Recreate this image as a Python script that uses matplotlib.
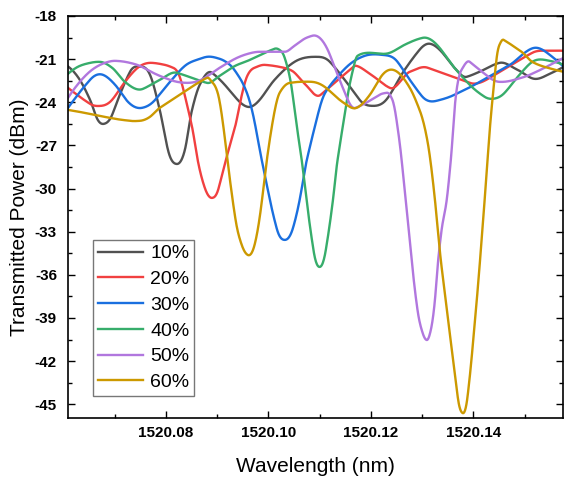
import numpy as np
import matplotlib
matplotlib.use("Agg")
import matplotlib.pyplot as plt
from matplotlib.ticker import MultipleLocator, FormatStrFormatter

plt.rcParams["font.family"] = ["Liberation Sans", "DejaVu Sans"]

labels = ["10%", "20%", "30%", "40%", "50%", "60%"]
colors = ["#515151", "#F14040", "#1A6FDF", "#37AD6B", "#B177DE", "#CC9900"]

wl_10 = [1520.0609, 1520.0632, 1520.0652, 1520.0665, 1520.0679, 1520.0695, 1520.0710, 1520.0730,
         1520.0749, 1520.0769, 1520.0788, 1520.0804, 1520.0821, 1520.0837, 1520.0851, 1520.0866,
         1520.0890, 1520.0915, 1520.0940, 1520.0960, 1520.0983, 1520.1012, 1520.1051, 1520.1090,
         1520.1120, 1520.1149, 1520.1178, 1520.1204, 1520.1233, 1520.1266, 1520.1295, 1520.1315,
         1520.1338, 1520.1363, 1520.1387, 1520.1412, 1520.1451, 1520.1486, 1520.1519, 1520.1549,
         1520.1576]
pw_10 = [-21.51, -22.44, -23.83, -25.08, -25.50, -24.88, -23.48, -21.88,
         -21.51, -22.09, -24.53, -27.31, -28.29, -27.31, -24.53, -22.79,
         -21.95, -22.79, -23.83, -24.32, -23.83, -22.44, -21.19, -20.84,
         -21.19, -22.44, -23.83, -24.25, -23.69, -21.74, -20.35, -19.93,
         -20.49, -21.60, -22.23, -21.88, -21.26, -21.74, -22.37, -22.02,
         -21.54]

wl_20 = [1520.0609, 1520.0632, 1520.0652, 1520.0673, 1520.0695, 1520.0720, 1520.0745, 1520.0773,
         1520.0798, 1520.0814, 1520.0827, 1520.0839, 1520.0851, 1520.0862, 1520.0876, 1520.0890,
         1520.0903, 1520.0917, 1520.0935, 1520.0946, 1520.0958, 1520.0973, 1520.0993, 1520.1022,
         1520.1046, 1520.1071, 1520.1102, 1520.1129, 1520.1159, 1520.1172, 1520.1198, 1520.1237,
         1520.1276, 1520.1311, 1520.1344, 1520.1393, 1520.1432, 1520.1471, 1520.1515, 1520.1549,
         1520.1576]
pw_20 = [-23.00, -23.62, -24.11, -24.25, -23.83, -22.58, -21.60, -21.26,
         -21.40, -21.60, -22.23, -23.83, -25.71, -28.01, -29.96, -30.65,
         -29.96, -28.01, -25.71, -23.83, -22.23, -21.60, -21.40, -21.54,
         -21.81, -22.72, -23.48, -22.65, -21.74, -21.47, -22.02, -23.00,
         -21.88, -21.60, -22.02, -22.65, -22.30, -21.47, -20.56, -20.42,
         -20.42]

wl_30 = [1520.0609, 1520.0628, 1520.0652, 1520.0677, 1520.0701, 1520.0726, 1520.0753, 1520.0779,
         1520.0808, 1520.0837, 1520.0866, 1520.0880, 1520.0905, 1520.0925, 1520.0944, 1520.0958,
         1520.0973, 1520.0987, 1520.1003, 1520.1016, 1520.1032, 1520.1048, 1520.1061, 1520.1075,
         1520.1090, 1520.1100, 1520.1112, 1520.1131, 1520.1155, 1520.1188, 1520.1221, 1520.1252,
         1520.1276, 1520.1299, 1520.1328, 1520.1363, 1520.1402, 1520.1437, 1520.1471, 1520.1500,
         1520.1523, 1520.1549, 1520.1576]
pw_30 = [-24.39, -23.48, -22.44, -22.09, -22.79, -23.97, -24.39, -23.83,
         -22.58, -21.47, -20.98, -20.84, -20.98, -21.40, -22.30, -23.34,
         -25.36, -28.01, -30.79, -32.74, -33.57, -32.74, -30.79, -28.01,
         -25.78, -24.39, -23.27, -22.37, -21.47, -20.77, -20.70, -21.19,
         -22.44, -23.55, -23.90, -23.48, -22.79, -22.09, -21.40, -20.56,
         -20.21, -20.70, -21.54]

wl_40 = [1520.0609, 1520.0632, 1520.0652, 1520.0671, 1520.0695, 1520.0720, 1520.0755, 1520.0788,
         1520.0821, 1520.0851, 1520.0880, 1520.0905, 1520.0935, 1520.0964, 1520.0993, 1520.1012,
         1520.1026, 1520.1036, 1520.1046, 1520.1055, 1520.1065, 1520.1077, 1520.1088, 1520.1100,
         1520.1112, 1520.1126, 1520.1135, 1520.1145, 1520.1155, 1520.1165, 1520.1174, 1520.1194,
         1520.1237, 1520.1266, 1520.1301, 1520.1334, 1520.1363, 1520.1393, 1520.1422, 1520.1437,
         1520.1461, 1520.1490, 1520.1515, 1520.1549, 1520.1576]
pw_40 = [-22.02, -21.47, -21.26, -21.19, -21.60, -22.58, -23.07, -22.44,
         -21.95, -22.30, -22.65, -22.16, -21.47, -21.05, -20.56, -20.28,
         -20.49, -21.40, -23.14, -25.57, -28.01, -31.50, -34.28, -35.45,
         -34.28, -30.79, -28.01, -25.71, -23.48, -21.74, -20.77, -20.56,
         -20.56, -20.00, -19.52, -20.21, -21.60, -22.79, -23.62, -23.76,
         -23.34, -22.09, -21.19, -21.12, -21.40]

wl_50 = [1520.0609, 1520.0632, 1520.0656, 1520.0681, 1520.0701, 1520.0730, 1520.0749, 1520.0779,
         1520.0808, 1520.0841, 1520.0876, 1520.0905, 1520.0931, 1520.0960, 1520.0983, 1520.1012,
         1520.1032, 1520.1051, 1520.1067, 1520.1085, 1520.1100, 1520.1120, 1520.1139, 1520.1155,
         1520.1170, 1520.1194, 1520.1217, 1520.1231, 1520.1242, 1520.1250, 1520.1260, 1520.1268,
         1520.1281, 1520.1291, 1520.1301, 1520.1309, 1520.1317, 1520.1325, 1520.1330, 1520.1338,
         1520.1348, 1520.1356, 1520.1365, 1520.1377, 1520.1393, 1520.1412, 1520.1432, 1520.1451,
         1520.1480, 1520.1510, 1520.1539, 1520.1576]
pw_50 = [-23.69, -22.58, -21.74, -21.26, -21.12, -21.26, -21.47, -22.02,
         -22.44, -22.65, -22.30, -21.60, -21.05, -20.63, -20.49, -20.49,
         -20.49, -20.07, -19.66, -19.38, -19.52, -20.70, -22.44, -23.83,
         -24.39, -23.97, -23.48, -23.34, -23.83, -25.22, -28.01, -30.79,
         -35.45, -38.44, -40.04, -40.53, -39.83, -37.75, -35.45, -32.88,
         -30.79, -28.01, -23.83, -21.74, -21.19, -21.74, -22.30, -22.58,
         -22.44, -22.09, -21.60, -20.91]

wl_60 = [1520.0609, 1520.0642, 1520.0671, 1520.0701, 1520.0730, 1520.0749, 1520.0769, 1520.0788,
         1520.0821, 1520.0847, 1520.0866, 1520.0880, 1520.0890, 1520.0901, 1520.0913, 1520.0925,
         1520.0936, 1520.0948, 1520.0960, 1520.0973, 1520.0985, 1520.0997, 1520.1009, 1520.1022,
         1520.1042, 1520.1061, 1520.1085, 1520.1110, 1520.1139, 1520.1159, 1520.1172, 1520.1198,
         1520.1221, 1520.1237, 1520.1256, 1520.1276, 1520.1295, 1520.1311, 1520.1324, 1520.1338,
         1520.1358, 1520.1369, 1520.1379, 1520.1389, 1520.1398, 1520.1412, 1520.1422, 1520.1432,
         1520.1439, 1520.1445, 1520.1451, 1520.1459, 1520.1474, 1520.1494, 1520.1515, 1520.1545,
         1520.1576]
pw_60 = [-24.53, -24.74, -24.95, -25.15, -25.29, -25.29, -25.01, -24.39,
         -23.62, -23.00, -22.58, -22.30, -22.58, -23.34, -25.92, -29.40,
         -32.18, -33.92, -34.62, -33.92, -31.50, -28.01, -25.22, -23.34,
         -22.65, -22.58, -22.58, -22.93, -23.83, -24.32, -24.39, -23.48,
         -22.16, -21.74, -22.02, -23.00, -24.53, -26.82, -30.44, -35.45,
         -41.23, -44.36, -45.61, -44.36, -41.23, -35.45, -30.79, -25.92,
         -23.14, -21.05, -20.00, -19.66, -20.00, -20.49, -21.19, -21.60,
         -21.88]

series_wl = [wl_10, wl_20, wl_30, wl_40, wl_50, wl_60]
series_pw = [pw_10, pw_20, pw_30, pw_40, pw_50, pw_60]


def smooth_curve(x, y, num=1500):
    """Akima cubic curve through the given samples (smooth, no ringing)."""
    x = np.asarray(x, float)
    y = np.asarray(y, float)
    x0 = x[0]
    t = (x - x0) * 1e3
    n = len(t)
    h = np.diff(t)
    m = np.diff(y) / h
    mm = np.concatenate([[3 * m[0] - 2 * m[1], 2 * m[0] - m[1]], m,
                         [2 * m[-1] - m[-2], 3 * m[-1] - 2 * m[-2]]])
    s = np.zeros(n)
    for i in range(n):
        w1 = abs(mm[i + 3] - mm[i + 2])
        w2 = abs(mm[i + 1] - mm[i])
        if w1 + w2 < 1e-12:
            s[i] = 0.5 * (mm[i + 1] + mm[i + 2])
        else:
            s[i] = (w1 * mm[i + 1] + w2 * mm[i + 2]) / (w1 + w2)
    ts = np.linspace(t[0], t[-1], num)
    idx = np.clip(np.searchsorted(t, ts) - 1, 0, n - 2)
    hk = h[idx]
    u = (ts - t[idx]) / hk
    h00 = 2 * u**3 - 3 * u**2 + 1
    h10 = u**3 - 2 * u**2 + u
    h01 = -2 * u**3 + 3 * u**2
    h11 = u**3 - u**2
    ys = h00 * y[idx] + h10 * hk * s[idx] + h01 * y[idx + 1] + h11 * hk * s[idx + 1]
    return ts / 1e3 + x0, ys


fig = plt.figure(figsize=(5.64, 4.80), dpi=100)
ax = fig.add_axes([0.1206, 0.129, 0.8768, 0.8377])

for wl, pw, lab, col in zip(series_wl, series_pw, labels, colors):
    xs, ys = smooth_curve(wl, pw)
    ax.plot(xs, ys, color=col, lw=1.7, label=lab)

ax.set_xlim(1520.0609, 1520.1574)
ax.set_ylim(-45.96, -18.0)

ax.xaxis.set_major_locator(MultipleLocator(0.02))
ax.xaxis.set_minor_locator(MultipleLocator(0.01))
ax.yaxis.set_major_locator(MultipleLocator(3))
ax.yaxis.set_minor_locator(MultipleLocator(1.5))
ax.xaxis.set_major_formatter(FormatStrFormatter("%.2f"))
ax.yaxis.set_major_formatter(FormatStrFormatter("%d"))

ax.tick_params(which="both", direction="in", top=True, right=True, width=1.0)
ax.tick_params(which="major", length=5)
ax.tick_params(which="minor", length=3)
ax.tick_params(axis="both", labelsize=11)
ax.tick_params(axis="y", pad=8)
ax.tick_params(axis="x", pad=6)
for lbl in ax.get_xticklabels() + ax.get_yticklabels():
    lbl.set_fontweight("bold")

for sp in ax.spines.values():
    sp.set_linewidth(1.2)

ax.set_xlabel("Wavelength (nm)", fontsize=15, labelpad=12)
ax.set_ylabel("Transmitted Power (dBm)", fontsize=15, labelpad=4)

leg = ax.legend(loc="lower left", bbox_to_anchor=(0.0505, 0.0547), borderaxespad=0,
                fontsize=14, frameon=True, fancybox=False, edgecolor="#555555",
                handlelength=2.3, handletextpad=0.4, labelspacing=0.42, borderpad=0.25)
leg.get_frame().set_linewidth(1.0)

fig.savefig("out.png", dpi=100)
